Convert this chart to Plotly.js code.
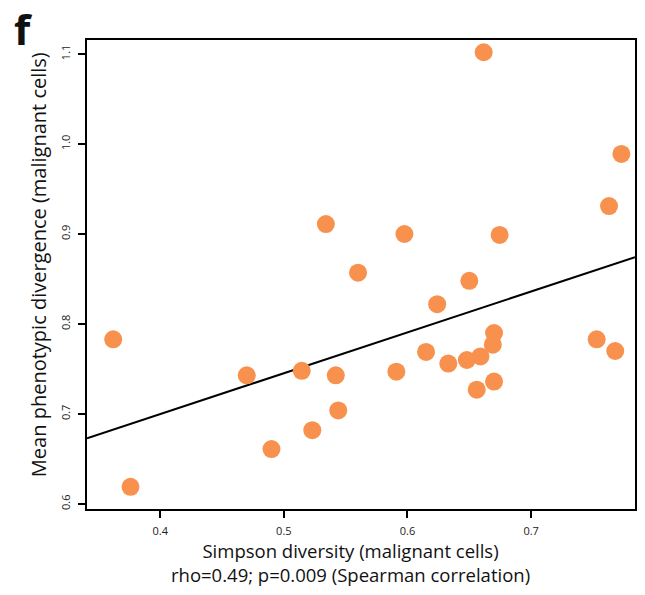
<!DOCTYPE html>
<html>
<head>
<meta charset="utf-8">
<script src="https://cdn.plot.ly/plotly-3.0.1.min.js"></script>
<style>
html,body{margin:0;padding:0;background:#fff;}
#chart{width:645px;height:595px;}
</style>
</head>
<body>
<div id="chart"></div>
<script>
// Simpson diversity (malignant cells)
const simpsonDiversity = [
  0.362, 0.376, 0.470, 0.490, 0.5145, 0.523, 0.542, 0.544, 0.534, 0.560,
  0.5975, 0.6745, 0.763, 0.650, 0.624, 0.670, 0.669, 0.615, 0.633, 0.648,
  0.659, 0.591, 0.670, 0.656, 0.753, 0.768, 0.6616, 0.773
];
// Mean phenotypic divergence (malignant cells)
const phenoDivergence = [
  0.783, 0.619, 0.743, 0.661, 0.748, 0.682, 0.743, 0.704, 0.911, 0.857,
  0.900, 0.899, 0.931, 0.848, 0.822, 0.790, 0.777, 0.769, 0.756, 0.760,
  0.764, 0.747, 0.736, 0.727, 0.783, 0.770, 1.102, 0.989
];
// fitted regression line
const fitIntercept = 0.5183;
const fitSlope = 0.454;

const xTicks = [0.4, 0.5, 0.6, 0.7];
const xTickLabels = ['0.4', '0.5', '0.6', '0.7'];
const yTicks = [0.6, 0.7, 0.8, 0.9, 1.0, 1.1];
const yTickLabels = ['0.6', '0.7', '0.8', '0.9', '1.0', '1.1'];

const xTitle = 'Simpson diversity (malignant cells)';
const statText = 'rho=0.49; p=0.009 (Spearman correlation)';
const yTitle = 'Mean phenotypic divergence (malignant cells)';
const panelLabel = 'f';

const xRange = [0.3408, 0.784];
const yRange = [0.5944, 1.1156];

const fitX = xRange.slice();
const fitY = fitX.map(v => fitIntercept + fitSlope * v);

const FONT = 'Open Sans, Noto Sans, DejaVu Sans, sans-serif';

const traces = [
  {
    x: fitX, y: fitY, type: 'scatter', mode: 'lines',
    line: {color: '#000', width: 2}, hoverinfo: 'skip', showlegend: false
  },
  {
    x: simpsonDiversity, y: phenoDivergence, type: 'scatter', mode: 'markers',
    marker: {color: '#F7914D', size: 18, line: {width: 0}}, showlegend: false
  }
];

const axisCommon = {
  showgrid: false, zeroline: false, showline: true, mirror: true,
  linecolor: '#000', linewidth: 2, ticks: 'outside', ticklen: 7,
  tickwidth: 2, tickcolor: '#000',
  tickfont: {family: FONT, size: 11, color: '#222'}
};

const layout = {
  width: 645, height: 595,
  margin: {l: 87, r: 10, t: 40, b: 86, pad: 0},
  paper_bgcolor: '#fff', plot_bgcolor: '#fff',
  showlegend: false,
  xaxis: Object.assign({}, axisCommon, {
    range: xRange, tickvals: xTicks, ticktext: xTickLabels, ticklabelstandoff: 4
  }),
  yaxis: Object.assign({}, axisCommon, {
    range: yRange, tickvals: yTicks, ticktext: yTickLabels, tickangle: -90, ticklabelstandoff: 4
  }),
  annotations: [
    {text: xTitle + '<br>' + statText, xref: 'paper', yref: 'paper', x: 0.48, y: -0.1141,
     xanchor: 'center', yanchor: 'middle', showarrow: false, align: 'center',
     font: {family: FONT, size: 18.5, color: '#111'}},
    {text: yTitle, xref: 'paper', yref: 'paper', x: -0.0894, y: 0.52,
     xanchor: 'center', yanchor: 'middle', textangle: -90, showarrow: false,
     font: {family: FONT, size: 20, color: '#111'}},
    {text: '<b>' + panelLabel + '</b>', xref: 'paper', yref: 'paper', x: -0.1369, y: 1.0245,
     xanchor: 'left', yanchor: 'middle', showarrow: false,
     font: {family: FONT, size: 42, color: '#111'}}
  ]
};

Plotly.newPlot('chart', traces, layout, {displayModeBar: false, staticPlot: true});
</script>
</body>
</html>
